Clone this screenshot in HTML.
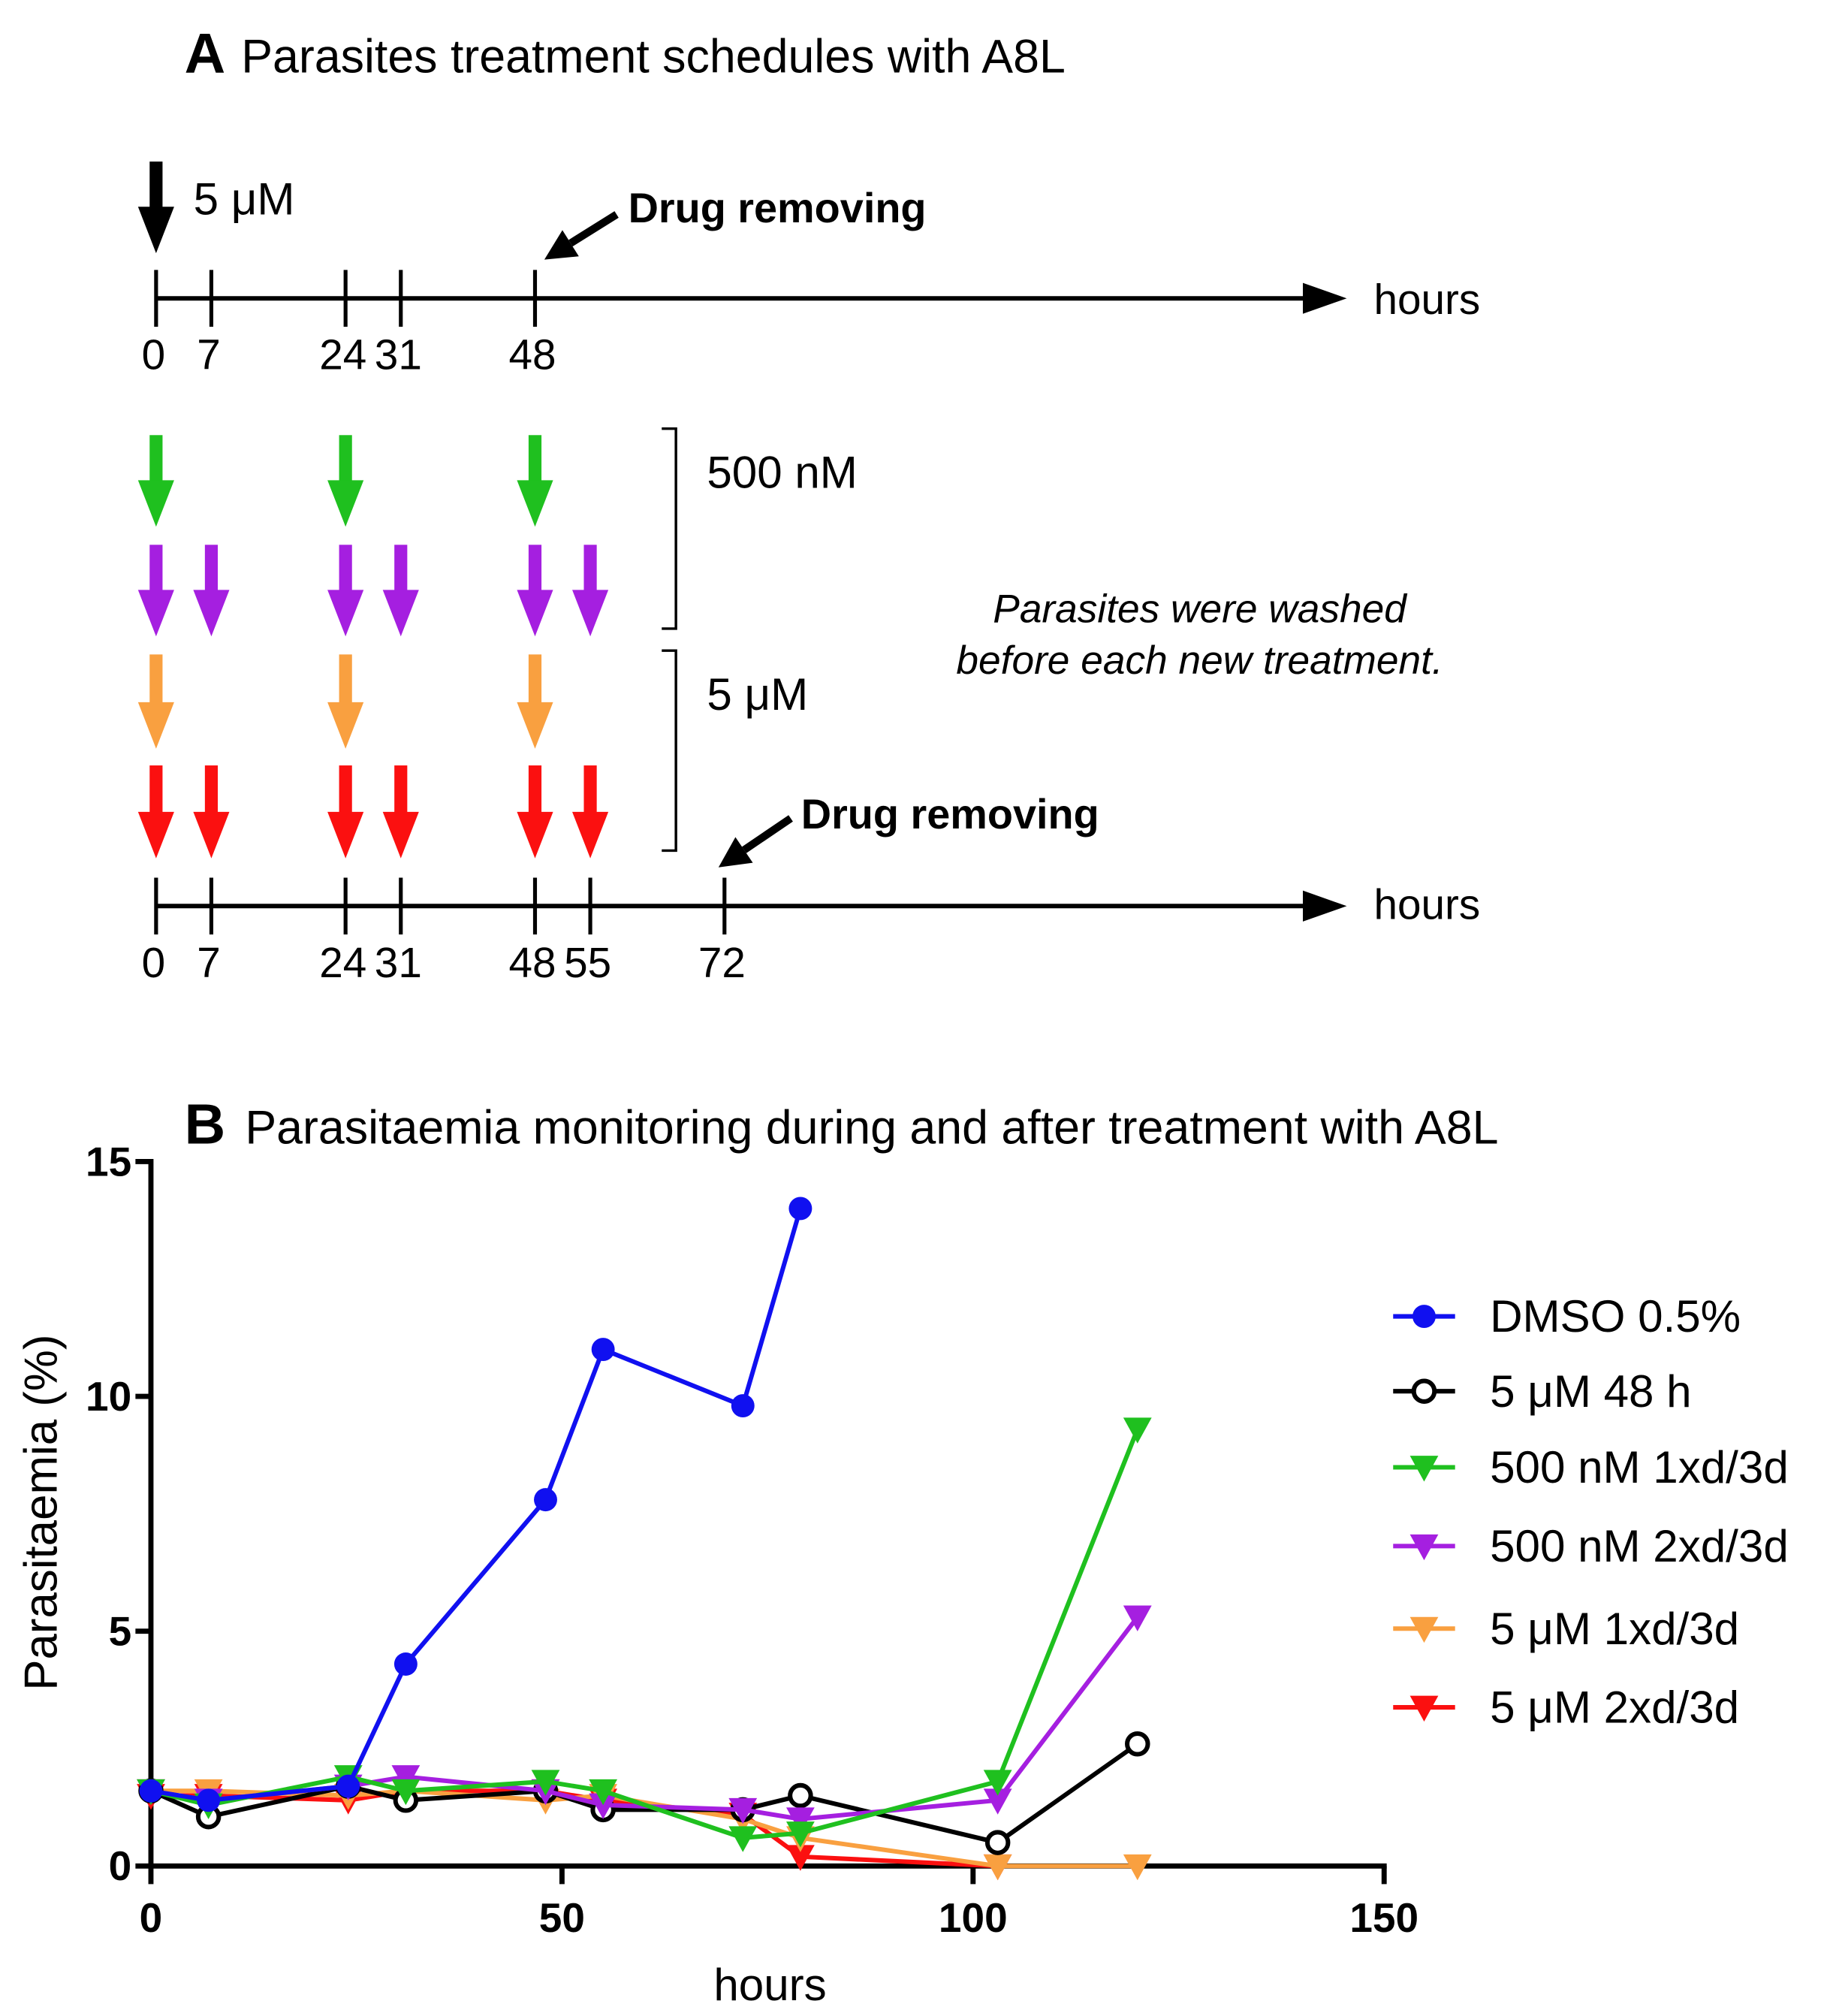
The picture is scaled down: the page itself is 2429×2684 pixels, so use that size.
<!DOCTYPE html>
<html><head><meta charset="utf-8"><style>
html,body{margin:0;padding:0;background:#fff}
svg{display:block}
text{font-family:"Liberation Sans",sans-serif}
</style></head><body>
<svg id="fig" width="2429" height="2684" viewBox="0 0 1414 1562" xmlns="http://www.w3.org/2000/svg">
<g id="panelA">
<text x="143" y="56" font-size="44" font-weight="bold">A</text>
<text x="187" y="56" font-size="36.5">Parasites treatment schedules with A8L</text>
<text x="150" y="166" font-size="35">5 μM</text>
<text x="487" y="172" font-size="32.5" font-weight="bold">Drug removing</text>
<text x="621" y="642" font-size="32.5" font-weight="bold">Drug removing</text>
<text x="548" y="378" font-size="35">500 nM</text>
<text x="548" y="550" font-size="35">5 μM</text>
<text x="930" y="482" font-size="31" font-style="italic" text-anchor="middle">Parasites were washed</text>
<text x="930" y="522" font-size="31" font-style="italic" text-anchor="middle">before each new treatment.</text>
<text x="1065" y="243" font-size="33">hours</text>
<text x="1065" y="712" font-size="33">hours</text>
<path d="M513,332 H524 V487 H513 M513,504 H524 V659 H513" fill="none" stroke="#000" stroke-width="2"/>
</g>
<g id="panelB">
<text x="143" y="886" font-size="44" font-weight="bold">B</text>
<text x="190" y="886" font-size="36.5">Parasitaemia monitoring during and after treatment with A8L</text>
<text x="597" y="1550" font-size="35" text-anchor="middle">hours</text>
<text transform="translate(44,1172) rotate(-90)" font-size="36" text-anchor="middle">Parasitaemia (%)</text>
</g>
</svg>
<script>
const NS="http://www.w3.org/2000/svg";
const svg=document.getElementById('fig');
function mk(tag,attrs,parent){const e=document.createElementNS(NS,tag);for(const k in attrs)e.setAttribute(k,attrs[k]);(parent||svg).appendChild(e);return e;}

// Panel A schedule data
const topTicks=[0,7,24,31,48];
const bottomTicks=[0,7,24,31,48,55,72];
const green1x=[0,24,48];
const purple2x=[0,7,24,31,48,55];
const orange1x=[0,24,48];
const red2x=[0,7,24,31,48,55];
const ax=h=>121+h*6.12;
const A=document.getElementById('panelA');
function timeline(y,ticks,name){
  const l=mk('line',{x1:121,y1:y,x2:1015,y2:y,stroke:'#000','stroke-width':3.5},A);
  
  
  const hd=mk('path',{d:`M1010,${y-12} L1044,${y} L1010,${y+12}z`,fill:'#000'},A);
  
  
  ticks.forEach(t=>{
    const tk=mk('line',{x1:ax(t),y1:y-22,x2:ax(t),y2:y+22,stroke:'#000','stroke-width':3},A);
    
    
    const tx=mk('text',{x:ax(t)-2,y:y+55,'font-size':33,'text-anchor':'middle'},A);
    tx.textContent=t;
    
    
  });
}
timeline(231,topTicks,'top-timeline');
timeline(702,bottomTicks,'bottom-timeline');
function arrow(x,y0,y1,col,name){
  const g=mk('g',{},A);
  
  
  mk('rect',{x:x-5,y:y0,width:10,height:(y1-y0)-32,fill:col},g);
  mk('path',{d:`M${x-14},${y1-36} L${x+14},${y1-36} L${x},${y1}z`,fill:col},g);
}
arrow(121,125,196,'#000','dose-arrow-5um-48h');
[[green1x,337,408,'#1fc01f','arrow-500nm-1x'],[purple2x,422,493,'#a51fe0','arrow-500nm-2x'],[orange1x,507,580,'#f9a040','arrow-5um-1x'],[red2x,593,665,'#fb1010','arrow-5um-2x']].forEach(r=>{
  r[0].forEach(t=>arrow(ax(t),r[1],r[2],r[3],r[4]+'-'+t));
});
[[478,166,422,201,'drug-removing-arrow-top'],[613,634,557,672,'drug-removing-arrow-bottom']].forEach(a=>{
  const g=mk('g',{},A);
  
  
  const dx=a[2]-a[0],dy=a[3]-a[1],L=Math.hypot(dx,dy),ux=dx/L,uy=dy/L;
  const bx=a[2]-ux*24,by=a[3]-uy*24;
  mk('line',{x1:a[0],y1:a[1],x2:bx,y2:by,stroke:'#000','stroke-width':6},g);
  mk('path',{d:`M${a[2]},${a[3]} L${bx-uy*12},${by+ux*12} L${bx+uy*12},${by-ux*12}z`,fill:'#000'},g);
});

// Panel B chart data
const hours=[0,7,24,31,48,55,72,79,103,120];
const dmso=[1.6,1.4,1.7,4.3,7.8,11.0,9.8,14.0];
const um5_48h=[1.6,1.05,1.7,1.4,1.6,1.2,1.2,1.5,0.5,2.6];
const nm500_1x=[1.6,1.3,1.9,1.6,1.8,1.6,0.6,0.7,1.8,9.3];
const nm500_2x=[1.6,1.4,1.7,1.9,1.6,1.3,1.2,1.0,1.4,5.3];
const um5_1x=[1.6,1.6,1.5,1.6,1.4,1.5,1.0,0.6,0.0,0.0];
const um5_2x=[1.5,1.5,1.4,1.6,1.6,1.4,1.1,0.2,0.0];
const xTicks=[0,50,100,150];
const yTicks=[0,5,10,15];
const seriesNames=['DMSO 0.5%','5 μM 48 h','500 nM 1xd/3d','500 nM 2xd/3d','5 μM 1xd/3d','5 μM 2xd/3d'];
const B=document.getElementById('panelB');
const X=h=>117+h*(1073-117)/150;
const Y=v=>1446-v*(1446-900)/15;
const yax=mk('line',{x1:117,y1:898,x2:117,y2:1448,stroke:'#000','stroke-width':4},B);


const xax=mk('line',{x1:115,y1:1446,x2:1075,y2:1446,stroke:'#000','stroke-width':4},B);


yTicks.forEach(v=>{
  const t=mk('line',{x1:105,y1:Y(v),x2:117,y2:Y(v),stroke:'#000','stroke-width':4},B);
  
  
  const tx=mk('text',{x:102,y:Y(v)+11,'font-size':32,'font-weight':'bold','text-anchor':'end'},B);
  tx.textContent=v;
  
  
});
xTicks.forEach(v=>{
  const t=mk('line',{x1:X(v),y1:1446,x2:X(v),y2:1460,stroke:'#000','stroke-width':4},B);
  
  
  const tx=mk('text',{x:X(v),y:1497,'font-size':32,'font-weight':'bold','text-anchor':'middle'},B);
  tx.textContent=v;
  
  
});
function marker(g,type,x,y,col){
  if(type==='dot') mk('circle',{cx:x,cy:y,r:9,fill:col},g);
  else if(type==='ring') mk('circle',{cx:x,cy:y,r:8,fill:'#fff',stroke:col,'stroke-width':3.5},g);
  else mk('path',{d:`M${x-11},${y-9} L${x+11},${y-9} L${x},${y+11}z`,fill:col},g);
}
const series=[
 [um5_2x,'#fb1010','tri','series-5um-2x'],
 [um5_1x,'#f9a040','tri','series-5um-1x'],
 [um5_48h,'#000','ring','series-5um-48h'],
 [nm500_2x,'#a51fe0','tri','series-500nm-2x'],
 [nm500_1x,'#1fc01f','tri','series-500nm-1x'],
 [dmso,'#1010f0','dot','series-dmso']
];
series.forEach(s=>{
  const g=mk('g',{},B);
  
  
  const pts=s[0].map((v,i)=>X(hours[i])+','+Y(v)).join(' ');
  mk('polyline',{points:pts,fill:'none',stroke:s[1],'stroke-width':3.5},g);
  s[0].forEach((v,i)=>marker(g,s[2],X(hours[i]),Y(v),s[1]));
});
const legend=[['#1010f0','dot'],['#000','ring'],['#1fc01f','tri'],['#a51fe0','tri'],['#f9a040','tri'],['#fb1010','tri']];
const legY=[1020,1078,1137,1198,1262,1323];
legend.forEach((l,i)=>{
  const g=mk('g',{},B);
  
  
  mk('line',{x1:1080,y1:legY[i],x2:1128,y2:legY[i],stroke:l[0],'stroke-width':3.5},g);
  marker(g,l[1],1104,legY[i],l[0]);
  const t=mk('text',{x:1155,y:legY[i]+12,'font-size':35},g);
  t.textContent=seriesNames[i];
});
</script>
</body></html>
